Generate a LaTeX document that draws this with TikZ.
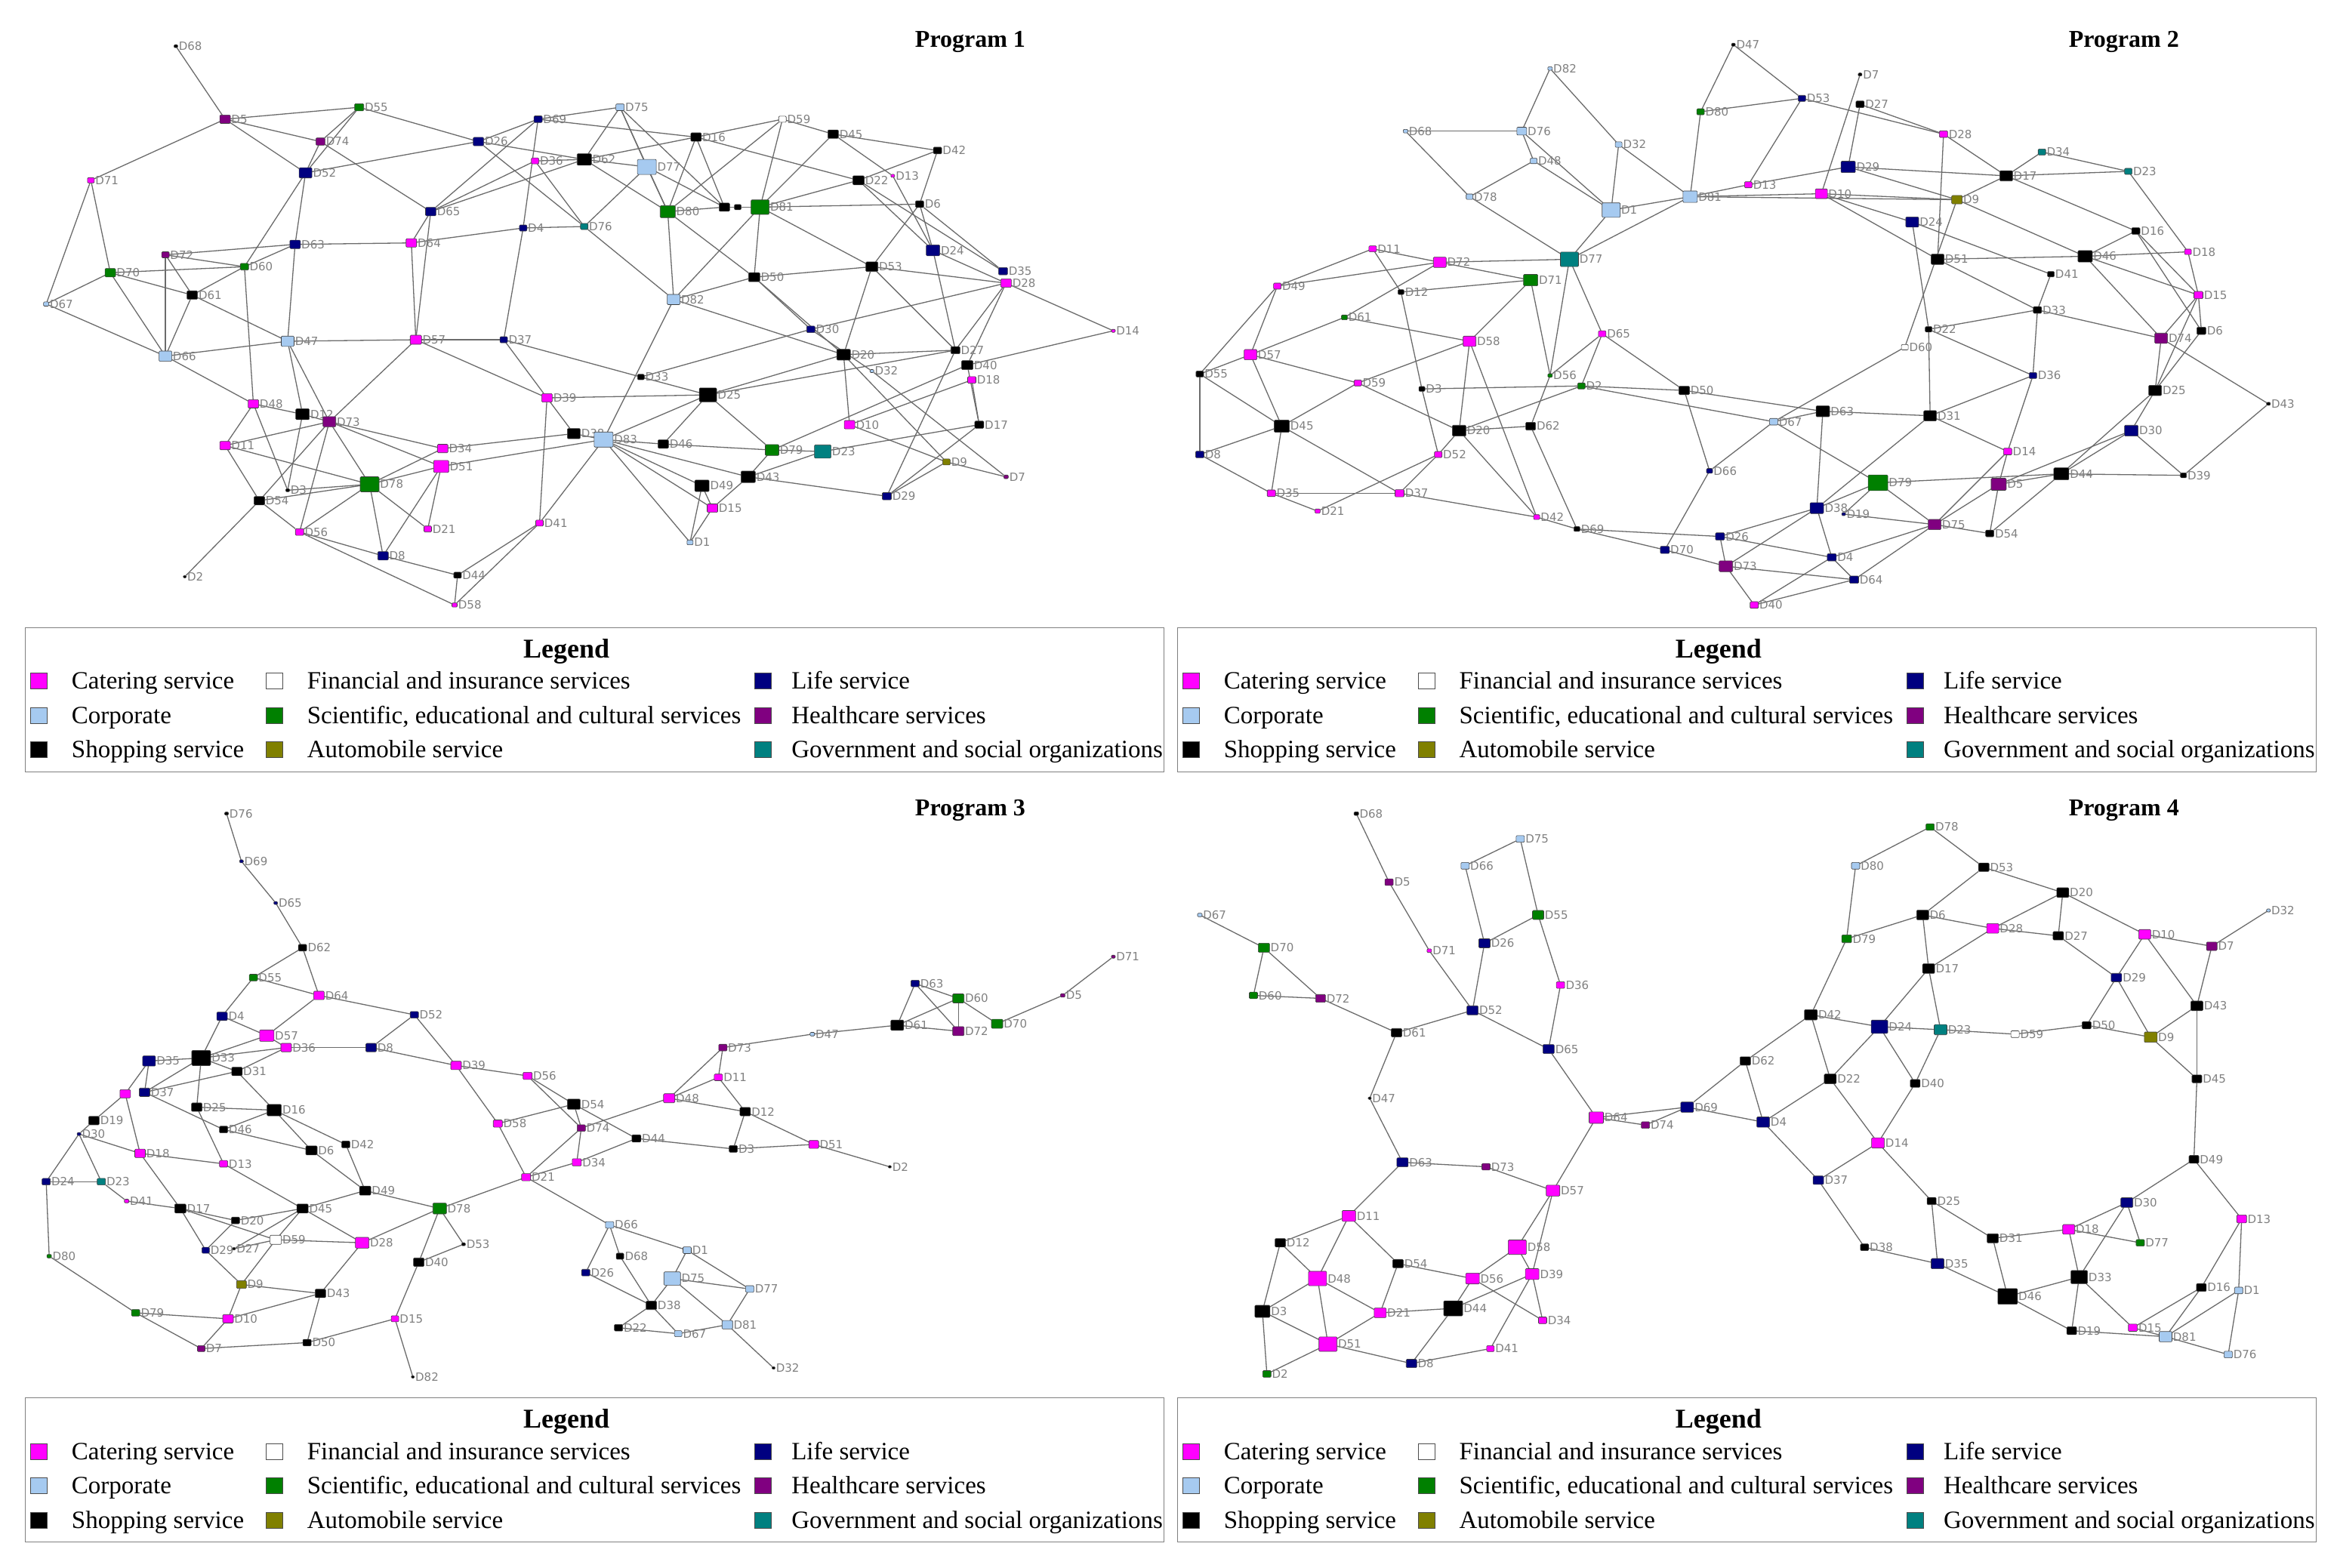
\documentclass[tikz,border=0pt]{standalone}
\usepackage{fontspec}
\setmainfont{Liberation Serif}
\newfontfamily\lblfont{DejaVu Sans}
\pgfdeclarelayer{edges}
\pgfsetlayers{edges,main}
\definecolor{ccat}{HTML}{FF00FF}
\definecolor{ccorp}{HTML}{A6CAF0}
\definecolor{cshop}{HTML}{000000}
\definecolor{cfin}{HTML}{FFFFFF}
\definecolor{csci}{HTML}{008000}
\definecolor{cauto}{HTML}{808000}
\definecolor{clife}{HTML}{000080}
\definecolor{chlth}{HTML}{800080}
\definecolor{cgov}{HTML}{008080}
\tikzset{
 nd/.style={draw=black!75, line width=0.6pt, rounded corners=1.2pt, inner sep=0pt, outer sep=0pt, rectangle},
 lbl/.style={font=\lblfont\fontsize{15}{17}\selectfont, text=black!50, anchor=west, inner sep=1.2pt},
 edge/.style={draw=black!58, line width=1.3pt},
 ptitle/.style={font=\bfseries\fontsize{32}{36}\selectfont},
 legtitle/.style={font=\bfseries\fontsize{36}{40}\selectfont},
 legtxt/.style={font=\fontsize{33}{38}\selectfont, anchor=base west, inner sep=0pt},
 legsq/.style={draw=black!70, line width=0.6pt, minimum width=22pt, minimum height=21pt, inner sep=0pt},
 legbox/.style={draw=black!50, line width=1pt}
}
\newcommand\mknodes[2]{\foreach \nn/\xx/\yy/\col/\sz in {#2}{\node[nd,fill=\col,minimum width=\sz*1pt,minimum height=\sz*0.8pt] (#1\nn) at (\xx,\yy) {}; \node[lbl] (#1\nn-l) at (#1\nn.east) {\nn};}}
\newcommand\mkedges[2]{\begin{pgfonlayer}{edges}\foreach \uu/\vv in {#2}{\draw[edge] (#1\uu) -- (#1\vv);}\end{pgfonlayer}}
\newcommand\mklegend[3]{\begin{scope}[shift={(#2,#3)}]
\draw[legbox] (0,0) rectangle (764,97);
\node[legtitle] (#1title) at (363,16) {Legend};
\foreach \ii/\cx/\tx/\cy/\col/\ltxt in {1/9/31/36/ccat/{Catering service}, 2/167/189/36/cfin/{Financial and insurance services}, 3/495/514/36/clife/{Life service}, 4/9/31/59/ccorp/{Corporate}, 5/167/189/59/csci/{Scientific, educational and cultural services}, 6/495/514/59/chlth/{Healthcare services}, 7/9/31/82/cshop/{Shopping service}, 8/167/189/82/cauto/{Automobile service}, 9/495/514/82/cgov/{Government and social organizations}}{\node[legsq,fill=\col] (#1sq\ii) at (\cx,\cy) {}; \node[legtxt] (#1tx\ii) at (\tx,\cy+5.5) {\ltxt};}
\end{scope}}
\begin{document}
\begin{tikzpicture}[x=1.974pt,y=-1.974pt]
\useasboundingbox (0,0) rectangle (1568,1052);
% ================= Program 1 =================
\node[ptitle] (t1) at (651,28) {Program 1};
\node[nd,fill=cshop,minimum width=14pt,minimum height=11pt] (abA) at (486,139) {};
\node[nd,fill=cshop,minimum width=9pt,minimum height=7pt] (abB) at (495,139) {};
\mknodes{a}{D68/118/31/cshop/5, D5/151/80/chlth/14, D55/241/72/csci/12, D74/215/95/chlth/12, D52/205/116/clife/17, D71/61/121/ccat/9, D72/111/171/chlth/10, D70/74/183/csci/14, D60/164/179/csci/11, D63/198/164/clife/14, D61/129/198/cshop/14, D67/31/204/ccorp/7, D66/111/239/ccorp/17, D47/193/229/ccorp/17, D48/170/271/ccat/14, D12/203/278/cshop/18, D73/221/283/chlth/17, D11/151/299/ccat/14, D78/248/325/csci/25, D3/193/329/cshop/5, D54/174/336/cshop/14, D56/201/357/ccat/11, D8/257/373/clife/14, D2/124/387/cshop/4, D26/321/95/clife/14, D69/361/80/clife/11, D75/416/72/ccorp/11, D36/359/108/ccat/10, D62/392/107/cshop/19, D77/434/112/ccorp/25, D65/289/142/clife/14, D64/276/163/ccat/14, D4/351/153/clife/10, D76/392/152/cgov/10, D80/448/142/csci/20, D16/467/92/cshop/14, D59/525/80/cfin/10, D45/559/90/cshop/14, D42/629/101/cshop/11, D22/576/121/cshop/15, D13/599/118/ccat/5, D6/617/137/cshop/11, D81/510/139/csci/24, D24/626/168/clife/18, D35/673/182/clife/12, D28/675/190/ccat/14, D14/747/222/ccat/5, D53/585/179/cshop/16, D50/506/186/cshop/15, D82/452/201/ccorp/17, D57/279/228/ccat/15, D37/338/228/clife/10, D30/544/221/clife/11, D20/566/238/cshop/18, D32/585/249/ccorp/5, D27/641/235/cshop/12, D40/649/245/cshop/15, D18/652/255/ccat/11, D33/430/253/cshop/9, D25/475/265/cshop/23, D39/367/267/ccat/14, D17/657/285/cshop/12, D10/570/285/ccat/14, D38/385/291/cshop/17, D83/405/295/ccorp/25, D46/445/298/cshop/14, D79/518/302/csci/18, D23/552/303/cgov/22, D34/297/301/ccat/14, D51/296/313/ccat/20, D49/471/326/cshop/19, D43/502/320/cshop/19, D15/478/341/ccat/14, D9/635/310/cauto/10, D7/675/320/chlth/6, D29/595/333/clife/12, D1/463/364/ccorp/8, D41/362/351/ccat/10, D21/287/355/ccat/10, D44/307/386/cshop/10, D58/305/406/ccat/7}
\mkedges{a}{D68/D5, D5/D55, D5/D74, D5/D52, D5/D71, D55/D74, D55/D52, D55/D26, D74/D52, D74/D65, D52/D26, D52/D63, D52/D60, D71/D70, D71/D67, D72/D63, D72/D60, D72/D61, D72/D66, D70/D60, D70/D61, D70/D67, D70/D66, D60/D63, D60/D61, D60/D48, D61/D66, D61/D47, D67/D66, D66/D47, D66/D48, D63/D64, D63/D47, D47/D57, D47/D12, D47/D73, D12/D3, D65/D64, D65/D57, D64/D57, D57/D73, D48/D12, D48/D11, D48/D3, D11/D73, D11/D54, D11/D78, D12/D73, D73/D78, D73/D54, D73/D56, D73/D34, D73/D51, D3/D78, D54/D78, D54/D56, D54/D2, D56/D78, D56/D8, D56/D58, D78/D8, D78/D21, D78/D51, D78/D34, D8/D44, D8/D51, D26/D69, D26/D62, D26/D76, D69/D75, D69/D65, D69/D4, D69/D16, D36/D65, D36/D62, D62/D65, D36/D76, D75/D62, D75/D77, D75/D80, D75/bA, D62/D77, D62/D80, D62/D16, D77/D76, D77/D80, D77/bA, D16/D80, D16/D59, D16/D22, D16/bA, D80/D82, D80/bA, D80/D50, D59/D80, D59/D81, D59/D45, D81/D50, D81/D82, D4/D64, D4/D76, D4/D37, D76/D82, D82/D83, D82/D50, D82/D20, D50/D53, D50/D30, D50/D20, D57/D37, D57/D39, D37/D39, D37/D33, D33/D25, D33/D30, D39/D25, D39/D38, D39/D41, D83/D25, D83/D46, D83/D49, D83/D43, D83/D15, D83/D1, D83/D41, D83/D51, D38/D34, D38/D83, D25/D46, D25/D79, D25/D20, D25/D27, D46/D79, D49/D15, D49/D1, D15/D1, D15/D43, D43/D79, D51/D21, D41/D44, D41/D58, D44/D58, D45/D42, D45/D13, D45/D81, D22/D81, D42/D22, D42/D6, D22/D24, D22/D35, D13/D24, D6/D81, D6/D24, D6/D53, D6/D35, D24/D27, D24/D28, D53/D28, D53/D20, D53/D27, D53/D81, D28/D14, D28/D27, D28/D40, D28/D30, D20/D27, D20/D10, D20/D9, D32/D7, D30/D32, D27/D29, D40/D14, D40/D79, D18/D10, D18/D17, D40/D17, D10/D9, D23/D17, D17/D29, D9/D7, D9/D29, D23/D79, D23/D43, D43/D29, D81/bB, bA/bB}
\mklegend{la}{17}{421}
% ================= Program 2 =================
\node[ptitle] (t2) at (1425,28) {Program 2};
\mknodes{b}{D47/1163/30/cshop/5, D82/1040/46/ccorp/6, D7/1248/50/cshop/5, D80/1141/75/csci/10, D53/1209/66/clife/10, D27/1248/70/cshop/11, D68/943/88/ccorp/6, D76/1021/88/ccorp/13, D48/1029/108/ccorp/9, D32/1086/97/ccorp/9, D28/1304/90/ccat/11, D34/1370/102/cgov/10, D23/1428/115/cgov/10, D78/986/132/ccorp/9, D1/1081/141/ccorp/24, D81/1134/132/ccorp/19, D13/1173/124/ccat/10, D29/1240/112/clife/19, D10/1222/130/ccat/16, D17/1346/118/cshop/17, D9/1313/134/cauto/14, D24/1283/149/clife/17, D77/1053/174/cgov/24, D72/966/176/ccat/17, D71/1027/188/csci/19, D11/921/167/ccat/10, D49/857/192/ccat/10, D12/940/196/cshop/8, D61/902/213/csci/8, D16/1433/155/cshop/11, D18/1468/169/ccat/9, D51/1300/174/cshop/17, D46/1399/172/cshop/19, D41/1376/184/cshop/9, D15/1475/198/ccat/12, D33/1367/208/cshop/11, D6/1477/222/cshop/12, D74/1450/227/chlth/17, D22/1294/221/cshop/9, D60/1278/233/cfin/9, D57/839/238/ccat/17, D58/986/229/ccat/17, D65/1075/224/ccat/10, D55/805/251/cshop/10, D59/911/257/ccat/10, D3/954/261/cshop/8, D56/1040/252/csci/6, D2/1061/259/csci/10, D50/1130/262/cshop/14, D36/1364/252/clife/10, D25/1446/262/cshop/17, D43/1522/271/cshop/5, D45/860/286/cshop/20, D20/979/289/cshop/18, D62/1027/286/cshop/13, D63/1223/276/cshop/18, D31/1295/279/cshop/17, D67/1190/283/ccorp/11, D30/1430/289/clife/18, D8/805/305/clife/11, D52/965/305/ccat/10, D14/1347/303/ccat/11, D66/1147/316/clife/8, D79/1260/324/csci/26, D5/1341/325/chlth/20, D44/1383/318/cshop/20, D39/1465/319/cshop/8, D35/853/331/ccat/11, D21/884/343/ccat/7, D37/939/331/ccat/12, D42/1031/347/ccat/8, D38/1219/341/clife/18, D19/1237/345/clife/5, D69/1058/355/cshop/8, D26/1154/360/clife/12, D70/1117/369/clife/12, D75/1298/352/chlth/17, D54/1335/358/cshop/11, D73/1158/380/chlth/18, D4/1229/374/clife/12, D64/1244/389/clife/12, D40/1177/406/ccat/11}
\mkedges{b}{D82/D76, D82/D32, D68/D76, D68/D78, D76/D48, D76/D1, D48/D78, D48/D1, D78/D77, D11/D49, D11/D72, D11/D12, D12/D3, D3/D52, D49/D72, D49/D55, D49/D57, D72/D77, D72/D71, D72/D61, D12/D71, D71/D58, D71/D56, D77/D56, D61/D58, D61/D57, D57/D55, D57/D45, D57/D59, D55/D8, D55/D45, D58/D59, D58/D20, D58/D42, D59/D45, D59/D20, D3/D2, D45/D8, D45/D35, D45/D37, D8/D35, D35/D37, D35/D21, D21/D52, D37/D52, D37/D42, D20/D52, D20/D62, D20/D2, D20/D42, D62/D56, D62/D69, D42/D69, D47/D80, D47/D53, D80/D53, D80/D81, D32/D1, D32/D81, D1/D81, D1/D77, D81/D77, D81/D13, D81/D10, D81/D9, D53/D13, D53/D28, D7/D10, D27/D29, D27/D28, D13/D29, D10/D24, D10/D51, D10/D9, D29/D17, D29/D9, D28/D51, D9/D60, D24/D22, D77/D65, D65/D56, D65/D2, D65/D50, D2/D50, D2/D67, D50/D63, D50/D66, D60/D67, D22/D31, D63/D31, D63/D38, D63/D67, D67/D66, D67/D79, D31/D38, D79/D38, D79/D19, D79/D75, D79/D44, D38/D26, D38/D4, D38/D73, D19/D75, D69/D26, D69/D70, D70/D66, D70/D73, D26/D73, D26/D4, D73/D40, D73/D64, D4/D40, D4/D75, D4/D64, D64/D40, D64/D75, D28/D17, D17/D34, D17/D23, D17/D9, D17/D16, D34/D23, D23/D18, D9/D46, D51/D46, D51/D33, D24/D41, D16/D46, D16/D15, D16/D6, D46/D18, D46/D15, D46/D74, D41/D33, D33/D22, D33/D74, D33/D36, D36/D14, D18/D15, D15/D6, D15/D74, D15/D25, D6/D25, D74/D25, D74/D43, D22/D36, D31/D36, D31/D14, D25/D30, D25/D44, D30/D44, D30/D5, D30/D39, D43/D39, D14/D5, D14/D75, D5/D44, D5/D54, D5/D75, D44/D39, D44/D54, D75/D54}
\mklegend{lb}{790}{421}
% ================= Program 3 =================
\node[ptitle] (t3) at (651,544) {Program 3};
\node[nd,fill=ccat,minimum width=14pt,minimum height=11pt] (cD14) at (84,734) {};
\mknodes{c}{D76/152/546/cshop/5, D69/162/578/clife/5, D65/185/606/clife/5, D62/203/636/cshop/11, D55/170/656/csci/11, D64/214/668/ccat/14, D4/149/682/clife/14, D57/179/695/ccat/19, D36/192/703/ccat/14, D52/278/681/clife/11, D8/249/703/clife/14, D35/100/712/clife/17, D33/135/710/cshop/25, D31/159/719/cshop/14, D37/97/733/clife/14, D25/132/743/cshop/14, D16/184/745/cshop/19, D19/63/752/cshop/14, D30/53/761/clife/5, D46/150/758/cshop/11, D6/209/772/cshop/15, D42/232/768/cshop/11, D18/94/774/ccat/14, D13/150/781/ccat/11, D24/31/793/clife/11, D23/68/793/cgov/11, D41/85/806/ccat/6, D17/121/811/cshop/15, D45/203/811/cshop/15, D49/245/799/cshop/15, D20/158/819/cshop/11, D59/185/832/cfin/15, D28/243/834/ccat/18, D29/138/839/clife/10, D27/157/838/cshop/4, D80/33/843/csci/6, D9/162/862/cauto/13, D43/215/868/cshop/14, D10/153/885/ccat/14, D79/91/881/csci/11, D7/135/905/chlth/10, D50/206/901/cshop/11, D15/265/885/ccat/10, D82/277/924/cshop/4, D78/295/811/csci/18, D53/311/835/cshop/5, D40/281/847/cshop/14, D39/306/715/ccat/14, D56/354/722/ccat/12, D58/334/754/ccat/12, D54/385/741/cshop/17, D74/390/757/chlth/11, D34/387/780/ccat/12, D21/353/790/ccat/12, D44/427/764/cshop/12, D48/449/737/ccat/15, D73/485/703/chlth/11, D11/482/723/ccat/11, D12/500/746/cshop/14, D3/492/771/cshop/11, D51/546/768/ccat/13, D2/597/783/cshop/4, D47/545/694/ccorp/6, D61/602/688/cshop/17, D63/614/660/clife/11, D60/643/670/csci/15, D72/643/692/chlth/15, D70/669/687/csci/15, D5/713/668/chlth/6, D71/747/642/chlth/5, D66/409/822/ccorp/11, D68/416/843/cshop/10, D26/393/854/clife/11, D1/461/839/ccorp/11, D75/451/858/ccorp/22, D38/437/876/cshop/14, D77/503/865/ccorp/11, D22/415/891/cshop/11, D67/455/895/ccorp/10, D81/488/889/ccorp/14, D32/519/918/cshop/4}
\mkedges{c}{D76/D69, D69/D65, D65/D62, D62/D55, D62/D64, D55/D64, D55/D4, D4/D57, D4/D33, D64/D57, D64/D52, D57/D33, D57/D36, D36/D33, D36/D31, D36/D8, D52/D8, D8/D39, D52/D39, D35/D33, D35/D37, D35/D14, D14/D19, D14/D18, D37/D31, D33/D31, D33/D25, D33/D37, D37/D46, D25/D16, D25/D13, D31/D16, D16/D46, D16/D6, D16/D42, D46/D6, D6/D49, D42/D49, D24/D30, D30/D23, D30/D18, D19/D30, D24/D23, D24/D80, D23/D41, D41/D17, D18/D13, D18/D17, D13/D45, D17/D20, D17/D59, D17/D29, D20/D29, D20/D45, D27/D45, D59/D45, D27/D59, D59/D28, D59/D9, D45/D49, D45/D28, D29/D9, D9/D10, D9/D43, D28/D43, D28/D78, D49/D78, D43/D10, D43/D50, D80/D79, D79/D10, D79/D7, D10/D7, D7/D50, D50/D15, D15/D40, D15/D82, D39/D56, D39/D58, D58/D21, D58/D54, D56/D54, D56/D74, D54/D74, D54/D44, D74/D34, D74/D21, D74/D48, D34/D21, D34/D44, D44/D3, D48/D73, D48/D11, D48/D12, D73/D11, D73/D47, D11/D12, D12/D3, D12/D51, D3/D51, D21/D78, D21/D66, D78/D40, D78/D53, D40/D53, D66/D26, D66/D68, D68/D38, D66/D1, D26/D38, D1/D75, D1/D77, D75/D77, D75/D81, D75/D38, D38/D22, D38/D67, D22/D67, D67/D81, D77/D81, D81/D32, D47/D61, D61/D63, D61/D60, D61/D72, D63/D60, D63/D72, D60/D72, D60/D70, D70/D5, D5/D71, D51/D2}
\mklegend{lc}{17}{938}
% ================= Program 4 =================
\node[ptitle] (t4) at (1425,544) {Program 4};
\mknodes{d}{D68/910/546/cshop/6, D75/1020/563/ccorp/11, D66/983/581/ccorp/11, D5/932/592/chlth/11, D67/805/614/ccorp/6, D55/1032/614/csci/15, D70/848/636/csci/15, D26/996/633/clife/15, D71/959/638/ccat/6, D36/1047/661/ccat/11, D60/841/668/csci/11, D72/886/670/chlth/13, D52/988/678/clife/15, D61/937/693/cshop/14, D65/1039/704/clife/15, D47/919/737/cshop/4, D63/941/780/clife/15, D73/997/783/chlth/11, D57/1042/799/ccat/18, D11/905/816/ccat/18, D12/859/834/cshop/14, D54/938/848/cshop/14, D58/1018/837/ccat/24, D48/884/858/ccat/24, D56/988/858/ccat/18, D39/1028/855/ccat/18, D3/847/880/cshop/20, D21/926/881/ccat/16, D44/975/878/cshop/25, D34/1035/886/ccat/11, D51/891/902/ccat/24, D41/1000/905/ccat/10, D8/947/915/clife/14, D2/850/922/csci/11, D78/1295/555/csci/11, D80/1245/581/ccorp/11, D79/1239/630/csci/13, D6/1290/614/cshop/16, D17/1294/650/cshop/16, D42/1215/681/cshop/17, D24/1261/689/clife/22, D23/1302/691/cgov/17, D62/1171/712/cshop/14, D69/1132/743/clife/17, D64/1071/750/ccat/19, D74/1104/755/chlth/11, D4/1183/753/clife/17, D22/1228/724/cshop/16, D40/1285/727/cshop/13, D14/1260/767/ccat/17, D37/1220/792/clife/14, D25/1296/806/cshop/12, D38/1251/837/cshop/11, D35/1300/848/clife/17, D53/1331/582/cshop/14, D20/1384/599/cshop/16, D28/1337/623/ccat/16, D27/1381/628/cshop/14, D10/1439/627/ccat/16, D7/1484/635/chlth/14, D32/1522/611/ccorp/5, D29/1420/656/clife/14, D43/1474/675/cshop/16, D50/1400/688/cshop/12, D59/1352/694/cfin/11, D9/1443/696/cauto/17, D45/1474/724/cshop/13, D49/1472/778/cshop/13, D30/1427/807/clife/16, D13/1504/818/ccat/13, D18/1388/825/ccat/16, D77/1436/834/csci/11, D31/1337/831/cshop/15, D33/1395/857/cshop/22, D46/1347/870/cshop/26, D16/1477/864/cshop/13, D1/1502/866/ccorp/11, D19/1390/893/cshop/13, D15/1431/891/ccat/12, D81/1453/897/ccorp/17, D76/1495/909/ccorp/11}
\mkedges{d}{D68/D5, D5/D71, D71/D52, D66/D75, D66/D26, D75/D55, D55/D26, D55/D36, D26/D52, D36/D65, D52/D61, D52/D65, D67/D70, D70/D60, D70/D72, D60/D72, D72/D61, D61/D47, D47/D63, D63/D73, D63/D11, D73/D57, D65/D64, D64/D57, D64/D69, D64/D74, D74/D69, D69/D62, D69/D4, D57/D58, D57/D39, D11/D12, D11/D48, D11/D54, D12/D48, D12/D3, D48/D3, D48/D51, D48/D21, D3/D51, D3/D2, D51/D2, D51/D21, D51/D8, D54/D21, D54/D56, D56/D58, D56/D44, D56/D34, D58/D39, D39/D44, D39/D34, D39/D41, D44/D21, D44/D8, D8/D41, D62/D42, D62/D4, D4/D22, D4/D37, D42/D79, D42/D24, D42/D22, D79/D80, D79/D6, D80/D78, D78/D53, D53/D6, D53/D20, D6/D28, D6/D17, D17/D28, D17/D24, D17/D23, D28/D27, D28/D20, D20/D27, D20/D10, D27/D29, D10/D29, D10/D7, D10/D43, D7/D32, D7/D43, D29/D50, D29/D9, D24/D23, D24/D22, D24/D40, D23/D59, D23/D40, D59/D50, D50/D9, D9/D43, D9/D45, D43/D45, D45/D49, D22/D14, D40/D14, D14/D37, D14/D25, D37/D38, D38/D35, D25/D35, D25/D31, D35/D46, D31/D18, D31/D46, D18/D30, D18/D77, D18/D33, D30/D77, D30/D33, D30/D49, D49/D13, D13/D16, D13/D1, D33/D46, D33/D19, D33/D15, D46/D19, D19/D81, D15/D81, D16/D15, D16/D81, D1/D81, D1/D76, D81/D76}
\mklegend{ld}{790}{938}
\end{tikzpicture}
\end{document}
